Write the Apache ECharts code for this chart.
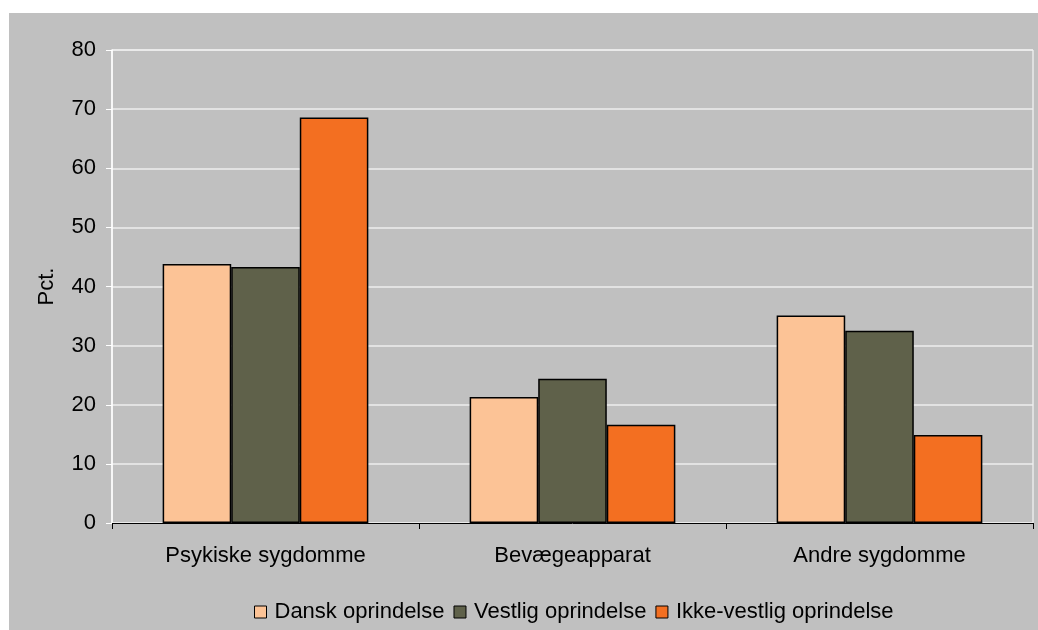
<!DOCTYPE html>
<html>
<head>
<meta charset="utf-8">
<script src="https://cdn.jsdelivr.net/npm/echarts@6/dist/echarts.min.js"></script>
<style>
html,body{margin:0;padding:0;background:#fff;}
#chart{width:1038px;height:630px;}
</style>
</head>
<body>
<div id="chart"></div>
<script>
const categories = ["Psykiske sygdomme", "Bevægeapparat", "Andre sygdomme"];
const seriesNames = ["Dansk oprindelse", "Vestlig oprindelse", "Ikke-vestlig oprindelse"];
const dansk = [43.8, 21.3, 35.1];
const vestlig = [43.3, 24.4, 32.5];
const ikkeVestlig = [68.6, 16.6, 14.9];
const yTicks = [0, 10, 20, 30, 40, 50, 60, 70, 80];
const colors = ["#FCC396", "#5F614A", "#F36F21"];

const chart = echarts.init(document.getElementById('chart'), null, {renderer: 'canvas'});
const font = "Liberation Sans, Arial, sans-serif";
const values = [dansk, vestlig, ikkeVestlig];
chart.setOption({
  backgroundColor: '#ffffff',
  animation: false,
  textStyle: {fontFamily: font},
  graphic: [{
    type: 'rect', z: -10, silent: true,
    shape: {x: 9, y: 13, width: 1029, height: 617},
    style: {fill: '#C0C0C0'}
  }],
  grid: {left: 112, top: 50, right: 5, bottom: 107, show: true, borderColor: '#ffffff', borderWidth: 1, backgroundColor: 'transparent'},
  legend: {
    top: 601, left: 254, padding: 0,
    itemWidth: 12, itemHeight: 12, itemGap: 9,
    icon: 'rect',
    textStyle: {fontSize: 22, color: '#000', fontFamily: font, padding: [0, 0, 0, 3]},
    itemStyle: {borderColor: '#000', borderWidth: 1},
    data: seriesNames
  },
  xAxis: {
    type: 'category', data: categories,
    axisLine: {lineStyle: {color: '#000', width: 1}},
    axisTick: {show: true, length: 6, lineStyle: {color: '#000'}},
    axisLabel: {fontSize: 22, color: '#000', margin: 22, fontFamily: font},
    splitLine: {show: false}
  },
  yAxis: {
    type: 'value', min: yTicks[0], max: yTicks[yTicks.length - 1], interval: 10,
    name: 'Pct.', nameLocation: 'middle', nameRotate: 90, nameGap: 54,
    nameTextStyle: {fontSize: 22, color: '#000', fontFamily: font},
    axisLine: {show: true, lineStyle: {color: '#ffffff', width: 1.5}},
    axisTick: {show: true, length: 6, lineStyle: {color: '#ffffff'}},
    axisLabel: {fontSize: 22, color: '#000', margin: 16, fontFamily: font},
    splitLine: {lineStyle: {color: '#EEEEEE', width: 1.5}}
  },
  series: seriesNames.map((n, i) => ({
    name: n, type: 'bar', data: values[i],
    barGap: '0%', barCategoryGap: '33%',
    itemStyle: {color: colors[i], borderColor: '#000', borderWidth: 1.5}
  }))
});
</script>
</body>
</html>
